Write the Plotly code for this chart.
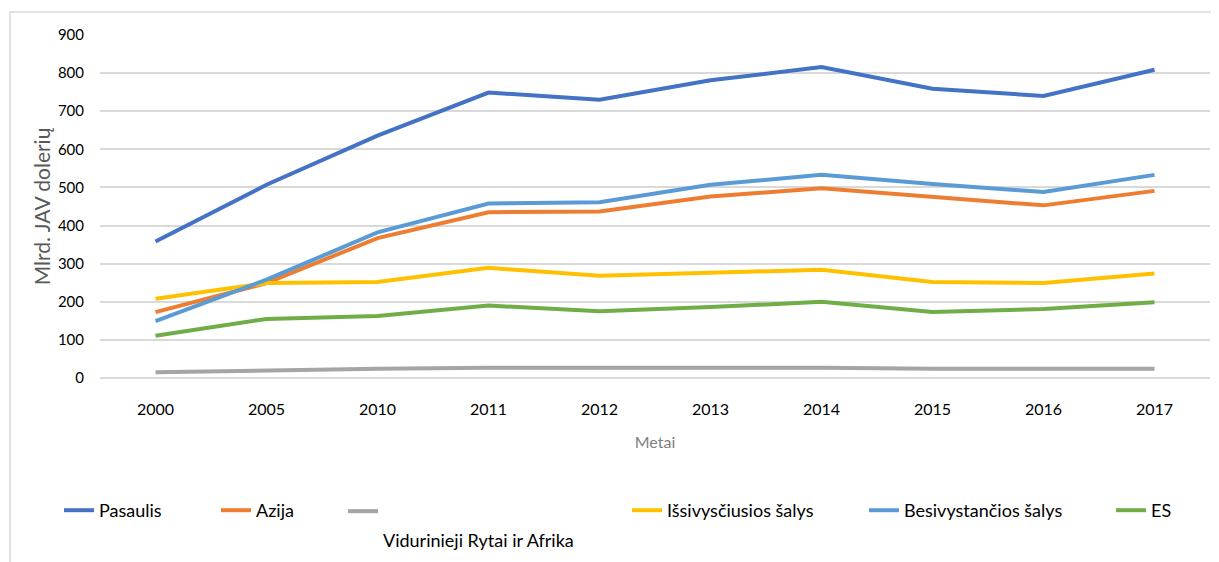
import plotly.graph_objects as go

years = ["2000", "2005", "2010", "2011", "2012", "2013", "2014", "2015", "2016", "2017"]

pasaulis = [358, 507, 636, 749, 730, 781, 816, 759, 740, 809]
azija = [173, 249, 367, 435, 437, 476, 498, 476, 453, 491]
vidurinieji = [15, 20, 24, 27, 27, 27, 27, 24, 24, 24]
issivyscius = [208, 249, 252, 289, 268, 275, 284, 252, 249, 274]
besivystancios = [149, 258, 382, 458, 461, 507, 533, 509, 488, 533]
es = [111, 155, 163, 190, 175, 186, 200, 173, 181, 199]

names = ["Pasaulis", "Azija",
         "<br><span style='font-size:18px'>Vidurinieji Rytai ir Afrika</span>",
         "Išsivysčiusios šalys", "Besivystančios šalys", "ES"]
series = [pasaulis, azija, vidurinieji, issivyscius, besivystancios, es]
colors = ["#4472C4", "#ED7D31", "#A5A5A5", "#FFC000", "#5B9BD5", "#70AD47"]
# legend box left edges in figure pixels
legend_px = [51, 208, 335, 619, 856, 1103]
legend_fs = [18, 18, 21, 18, 18, 18]

# page body offsets the figure by 8px
W, H = 1211, 554
ML, MR, MT, MB = 92, 9, 27, 184
PW = W - ML - MR
PH = H - MT - MB

FONT = "Lato"

fig = go.Figure()
for i in range(6):
    lg = "legend" if i == 0 else f"legend{i+1}"
    fig.add_trace(go.Scatter(
        x=years, y=series[i], name=names[i], mode="lines",
        line=dict(color=colors[i], width=4),
        legend=lg,
    ))

layout_legends = {}
for i in range(6):
    key = "legend" if i == 0 else f"legend{i+1}"
    top = 484 if legend_fs[i] == 18 else 483
    layout_legends[key] = dict(
        x=(legend_px[i] - ML) / PW, xanchor="left",
        y=(MT + PH - top) / PH, yanchor="top",
        orientation="h", bgcolor="rgba(0,0,0,0)",
        font=dict(family=FONT, size=legend_fs[i], color="#000000"),
        valign="top", itemwidth=30, tracegroupgap=0,
    )

fig.update_layout(
    width=W, height=H,
    margin=dict(l=ML, r=MR, t=MT, b=MB, autoexpand=False),
    paper_bgcolor="white", plot_bgcolor="white",
    showlegend=True,
    **layout_legends,
    xaxis=dict(
        type="category", range=[-0.5, 9.5],
        showgrid=False, showline=False, zeroline=False, ticks="",
        tickfont=dict(family=FONT, size=16, color="#000000"),
        ticklabelstandoff=20,
        title=dict(text="Metai", font=dict(family=FONT, size=16, color="#7F7F7F"), standoff=19),
        automargin=False,
    ),
    yaxis=dict(
        range=[0, 900], dtick=100, tick0=0,
        showgrid=True, gridcolor="#D9D9D9", gridwidth=1.5,
        zeroline=True, zerolinecolor="#D9D9D9", zerolinewidth=1.5,
        showline=False, ticks="",
        tickfont=dict(family=FONT, size=15, color="#000000"),
        ticklabelstandoff=15,
        title=dict(text="Mlrd. JAV dolerių", font=dict(family=FONT, size=21, color="#595959"), standoff=1),
        automargin=False,
    ),
    shapes=[dict(
        type="rect", xref="paper", yref="paper",
        x0=(2 - ML) / PW, x1=(1230 - ML) / PW,
        y0=(MT + PH - 580) / PH, y1=(MT + PH - 4) / PH,
        line=dict(color="#D9D9D9", width=1.5), fillcolor="rgba(0,0,0,0)", layer="below",
    )],
)

fig.write_html("out.html")
